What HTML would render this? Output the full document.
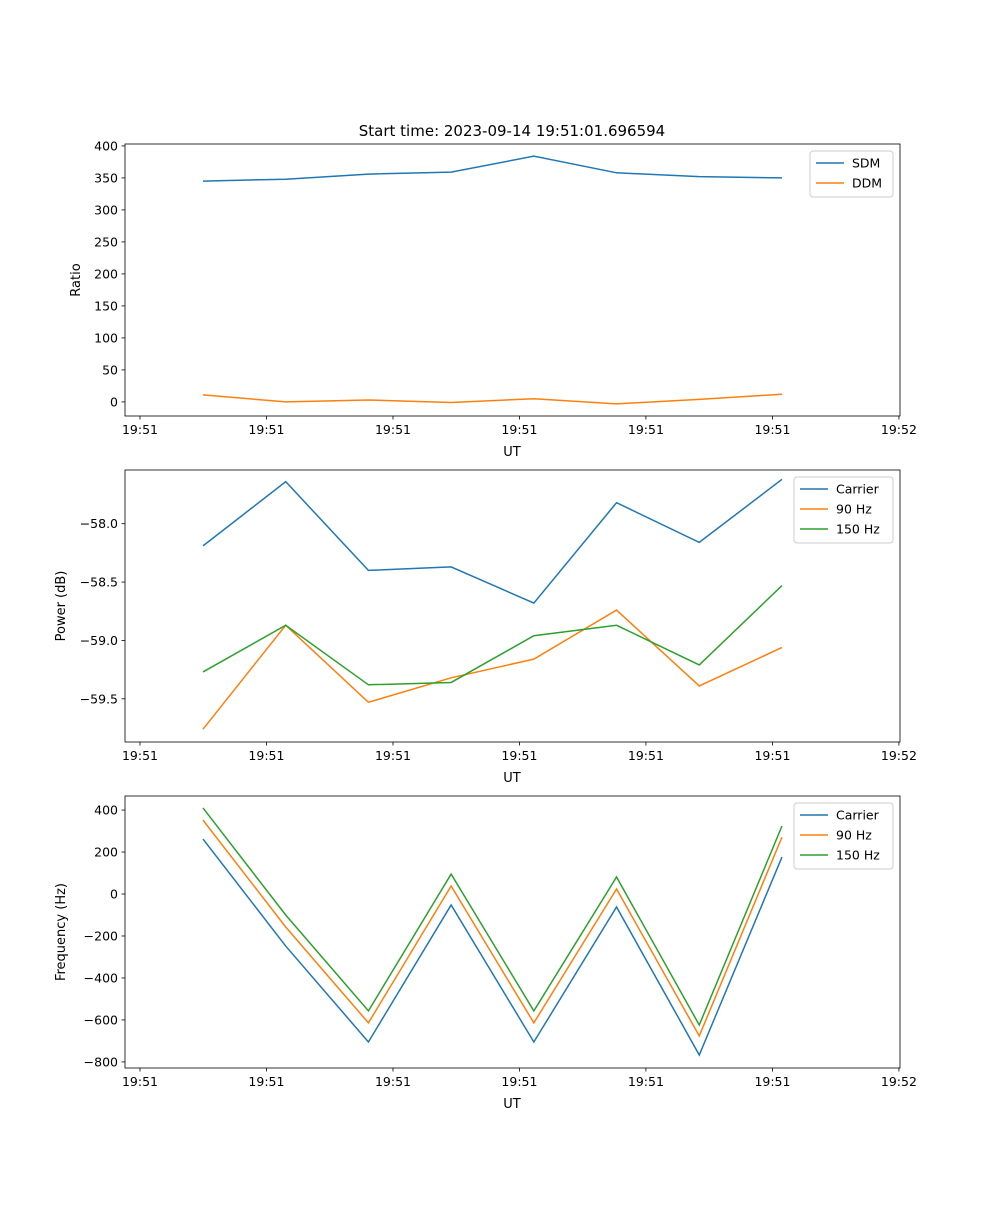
<!DOCTYPE html>
<html><head><meta charset="utf-8"><style>
body{margin:0;background:#fff}
svg{font-family:"DejaVu Sans","Liberation Sans",sans-serif}
</style></head><body>
<svg id="fig" width="1000" height="1200" xmlns="http://www.w3.org/2000/svg">
<text x="512" y="136" font-size="15" text-anchor="middle">Start time: 2023-09-14 19:51:01.696594</text>
</svg>
<script>
const pointIdx=[0,1,2,3,4,5,6,7];
const xTickPos=[-0.762,0.767,2.297,3.826,5.355,6.885,8.414];
const xTickLabels=["19:51","19:51","19:51","19:51","19:51","19:51","19:52"];
const sdm=[345,348,356,359,384,358,352,350];
const ddm=[11,0,3,-1,5,-3,4,12];
const pCarrier=[-58.19,-57.64,-58.40,-58.37,-58.68,-57.82,-58.16,-57.62];
const p90=[-59.76,-58.87,-59.53,-59.32,-59.16,-58.74,-59.39,-59.06];
const p150=[-59.27,-58.87,-59.38,-59.36,-58.96,-58.87,-59.21,-58.53];
const fCarrier=[262,-248,-705,-52,-705,-62,-767,176];
const f90=[352,-157,-614,38,-614,24,-676,271];
const f150=[410,-100,-557,95,-557,81,-624,324];
const ratioTicks=[0,50,100,150,200,250,300,350,400];
const powerTicks=[-58.0,-58.5,-59.0,-59.5];
const freqTicks=[-800,-600,-400,-200,0,200,400];
const NS="http://www.w3.org/2000/svg";
const svg=document.getElementById('fig');
const X0=125,X1=900;
function xs(i){return 203+82.71*i;}
function el(tag,attrs,parent){const e=document.createElementNS(NS,tag);for(const k in attrs)e.setAttribute(k,attrs[k]);(parent||svg).appendChild(e);return e;}
const colors=["#1f77b4","#ff7f0e","#2ca02c"];
function panel(name,top,bottom,ymax,ymin,ticks,fmt,ylabel,series,names,legW){
  const g=el('g',{});
  
  
  const ys=v=>top+(ymax-v)/(ymax-ymin)*(bottom-top);
  series.forEach((s,k)=>{
    const p=el('polyline',{points:s.map((v,i)=>xs(pointIdx[i])+','+ys(v)).join(' '),fill:'none',stroke:colors[k],'stroke-width':1.5},g);
    
    
  });
  const fr=el('rect',{x:X0,y:top,width:X1-X0,height:bottom-top,fill:'none',stroke:'#000','stroke-width':0.8},g);
  
  
  ticks.forEach(t=>{const y=ys(t);
    el('line',{x1:X0-3.5,x2:X0,y1:y,y2:y,stroke:'#000','stroke-width':0.8},g);
    const tx=el('text',{x:X0-7,y:y+4.5,'font-size':12.5,'text-anchor':'end'},g);
    tx.textContent=fmt(t);
    
    
  });
  xTickPos.forEach((t,i)=>{const x=xs(t);
    el('line',{x1:x,x2:x,y1:bottom,y2:bottom+3.5,stroke:'#000','stroke-width':0.8},g);
    const tx=el('text',{x:x,y:bottom+18,'font-size':12.5,'text-anchor':'middle'},g);
    tx.textContent=xTickLabels[i];
    
    
  });
  const xl=el('text',{x:512,y:bottom+40,'font-size':13,'text-anchor':'middle'},g);
  xl.textContent='UT';
  
  
  const ylx=ylabel==='Ratio'?80:65;
  const yl=el('text',{x:ylx,y:(top+bottom)/2,'font-size':13,'text-anchor':'middle',transform:`rotate(-90 ${ylx} ${(top+bottom)/2})`},g);
  yl.textContent=ylabel;
  
  
  const lx=X1-7-legW, ly=top+7, lh=names.length*20+6;
  const lg=el('g',{},g);
  
  
  el('rect',{x:lx,y:ly,width:legW,height:lh,rx:3,fill:'#fff','fill-opacity':0.8,stroke:'#ccc'},lg);
  names.forEach((n,k)=>{const yy=ly+12+k*20;
    el('line',{x1:lx+6,x2:lx+34,y1:yy,y2:yy,stroke:colors[k],'stroke-width':1.5},lg);
    const t=el('text',{x:lx+42,y:yy+4.5,'font-size':12.5},lg);t.textContent=n;
    
    
  });
}
const mfmt=v=>String(v).replace('-','\u2212');
panel('ratio',144,416,403,-22,ratioTicks,mfmt,'Ratio',[sdm,ddm],['SDM','DDM'],83);
panel('power',470,742,-57.54,-59.87,powerTicks,v=>mfmt(v.toFixed(1)),'Power (dB)',[pCarrier,p90,p150],['Carrier','90 Hz','150 Hz'],99);
panel('frequency',796,1068,467,-829,freqTicks,mfmt,'Frequency (Hz)',[fCarrier,f90,f150],['Carrier','90 Hz','150 Hz'],99);
</script>
</body></html>
